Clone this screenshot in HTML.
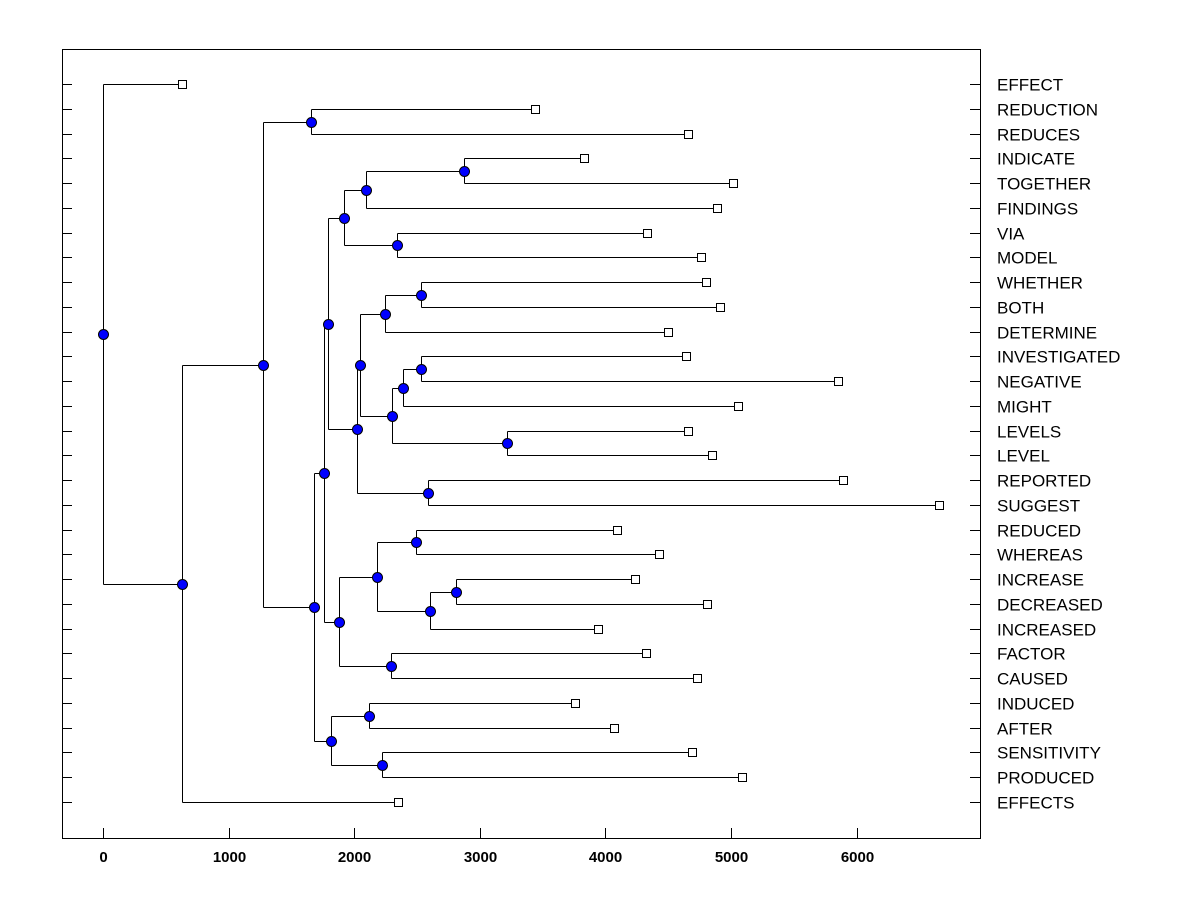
<!DOCTYPE html>
<html><head><meta charset="utf-8"><style>
body{margin:0;background:#fff;}
svg text{font-family:"Liberation Sans",Arial,sans-serif;}
</style></head><body>
<svg id="chart" width="1200" height="900" xmlns="http://www.w3.org/2000/svg">
<rect x="0" y="0" width="1200" height="900" fill="#fff"/>
<g id="plot"></g>
</svg>
<script>
const leafNames = ["EFFECT","REDUCTION","REDUCES","INDICATE","TOGETHER","FINDINGS","VIA","MODEL","WHETHER","BOTH","DETERMINE","INVESTIGATED","NEGATIVE","MIGHT","LEVELS","LEVEL","REPORTED","SUGGEST","REDUCED","WHEREAS","INCREASE","DECREASED","INCREASED","FACTOR","CAUSED","INDUCED","AFTER","SENSITIVITY","PRODUCED","EFFECTS"];
const leafValues = [629,3440,4658,3830,5016,4889,4331,4761,4801,4912,4498,4642,5852,5056,4658,4849,5892,6656,4092,4427,4236,4809,3941,4323,4729,3758,4068,4689,5088,2349];
const nodeIds = ["root","a","b","c","d","e","f","g","h","i","j","k","l","m","n","o","p","q","r","s","t","u","v","w","x","y","z","aa","bb"];
const nodeHeights = [0,629,1274,1656,1680,1760,1816,1795,1879,1920,2022,2094,2341,2874,2046,2588,2245,2301,2532,2389,3217,2532,2181,2293,2492,2604,2811,2118,2221];
const nodeChildren = [["EFFECT","a"],["b","EFFECTS"],["c","d"],["REDUCTION","REDUCES"],["e","f"],["g","h"],["aa","bb"],["i","j"],["v","w"],["k","l"],["n","o"],["m","FINDINGS"],["VIA","MODEL"],["INDICATE","TOGETHER"],["p","q"],["REPORTED","SUGGEST"],["r","DETERMINE"],["s","t"],["WHETHER","BOTH"],["u","MIGHT"],["LEVELS","LEVEL"],["INVESTIGATED","NEGATIVE"],["x","y"],["FACTOR","CAUSED"],["REDUCED","WHEREAS"],["z","INCREASED"],["INCREASE","DECREASED"],["INDUCED","AFTER"],["SENSITIVITY","PRODUCED"]];
const xTicks = [0,1000,2000,3000,4000,5000,6000];

const L=62,R=980,T=49,B=838, vMin=-326, vMax=6983;
const xs = v => Math.round(L + (v - vMin) * (R - L) / (vMax - vMin)) + 0.5;
const rowY0=84, rowStep=(802-84)/29;
const ys = i => Math.round(rowY0 + i*rowStep) + 0.5;
const NS="http://www.w3.org/2000/svg";
const g=document.getElementById('plot');
function mk(tag,attrs){const e=document.createElementNS(NS,tag);for(const k in attrs)e.setAttribute(k,attrs[k]);g.appendChild(e);return e;}

const frame=mk('rect',{x:L+0.5,y:T+0.5,width:R-L,height:B-T,fill:'none',stroke:'#000','stroke-width':1,'shape-rendering':'crispEdges'});



xTicks.forEach(v=>{
  const x=xs(v);
  const t=mk('line',{x1:x,y1:B,x2:x,y2:B-10,stroke:'#000','shape-rendering':'crispEdges'});
  
  
  const lb=mk('text',{x:x,y:862,'text-anchor':'middle','font-size':15,'font-weight':'bold'});
  lb.textContent=v;
  
  
});

const pos={};
leafNames.forEach((n,i)=>{pos[n]={x:xs(leafValues[i]),y:ys(i)};});
function place(id){
  if(pos[id])return pos[id];
  const k=nodeIds.indexOf(id);
  const ch=nodeChildren[k].map(place);
  const p={x:xs(nodeHeights[k]),y:Math.floor((ch[0].y+ch[1].y)/2)+0.5,ch:ch};
  pos[id]=p;return p;
}
place("root");
nodeIds.forEach(id=>{
  const p=pos[id];
  const v=mk('line',{x1:p.x,y1:p.ch[0].y,x2:p.x,y2:p.ch[1].y,stroke:'#000','shape-rendering':'crispEdges'});
  
  
  p.ch.forEach(c=>{
    const h=mk('line',{x1:p.x,y1:c.y,x2:c.x,y2:c.y,stroke:'#000','shape-rendering':'crispEdges'});
    
    
  });
});
leafNames.forEach((n,i)=>{
  const y=ys(i);
  const t1=mk('line',{x1:L,y1:y,x2:L+10,y2:y,stroke:'#000','shape-rendering':'crispEdges'});
  
  
  const t2=mk('line',{x1:R-10,y1:y,x2:R,y2:y,stroke:'#000','shape-rendering':'crispEdges'});
  
  
  const p=pos[n];
  const s=mk('rect',{x:p.x-4,y:y-4,width:8,height:8,fill:'#fff',stroke:'#000','shape-rendering':'crispEdges'});
  
  
  const lb=mk('text',{x:997,y:y+6,'font-size':17});
  lb.textContent=n;
  
  
});
nodeIds.forEach(id=>{
  const p=pos[id];
  const c=mk('circle',{cx:p.x,cy:p.y,r:5,fill:'#0000ff',stroke:'#000','stroke-width':1});
  
  
});
</script>
</body></html>
